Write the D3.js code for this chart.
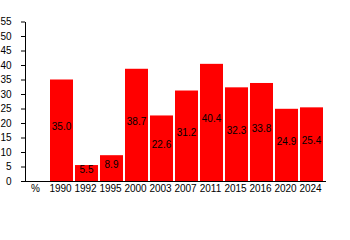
<!DOCTYPE html>
<html>
<head>
<meta charset="utf-8">
<script src="https://cdn.jsdelivr.net/npm/d3@7"></script>
<style>
  body { margin: 0; background: #fff; }
  svg { display: block; font-family: "Liberation Sans", Arial, sans-serif; }
  .axis text { font-size: 10px; fill: #000; font-family: "Liberation Sans", Arial, sans-serif; }
  .bar-label { font-size: 10px; fill: #000; }
</style>
</head>
<body>
<div id="viz"></div>
<script>
var categories = ["%", "1990", "1992", "1995", "2000", "2003", "2007", "2011", "2015", "2016", "2020", "2024"];
var years = ["1990", "1992", "1995", "2000", "2003", "2007", "2011", "2015", "2016", "2020", "2024"];
var values = [35.0, 5.5, 8.9, 38.7, 22.6, 31.2, 40.4, 32.3, 33.8, 24.9, 25.4];
var y_ticks = [0, 5, 10, 15, 20, 25, 30, 35, 40, 45, 50, 55];

var width = 350, height = 240;
var svg = d3.select("#viz").append("svg").attr("width", width).attr("height", height);

var x = d3.scaleBand()
    .domain(categories)
    .range([24, 324])
    .paddingInner(0.08)
    .paddingOuter(0.04);

var y = d3.scaleLinear()
    .domain([0, 55])
    .range([181, 21.5]);

// bars
var data = years.map(function(d, i){ return {year: d, value: values[i]}; });

svg.selectAll(".bar")
    .data(data)
  .enter().append("rect")
    .attr("class", "bar")
    .attr("x", function(d){ return x(d.year); })
    .attr("y", function(d){ return y(d.value); })
    .attr("width", x.bandwidth())
    .attr("height", function(d){ return y(0) - y(d.value); })
    .style("fill", "#ff0000");

svg.selectAll(".bar-label")
    .data(data)
  .enter().append("text")
    .attr("class", "bar-label")
    .attr("x", function(d){ return x(d.year) + x.bandwidth() / 2; })
    .attr("y", function(d){ return (y(0) + y(d.value)) / 2; })
    .style("text-anchor", "middle")
    .text(function(d){ return d.value.toFixed(1); });

// y axis
var y_axis = svg.append("g")
    .attr("class", "axis")
    .attr("transform", "translate(25,0)")
    .call(d3.axisLeft(y).tickValues(y_ticks).tickSize(4).tickSizeOuter(0).tickPadding(9.5));
y_axis.select(".domain").attr("stroke", "#000");

// x axis
var x_axis = svg.append("g")
    .attr("class", "axis")
    .attr("transform", "translate(-1," + y(0) + ")")
    .call(d3.axisBottom(x).tickSize(0).tickPadding(4));
x_axis.select(".domain").remove();

svg.append("line")
    .attr("x1", 25)
    .attr("x2", 326)
    .attr("y1", y(0) + 0.5)
    .attr("y2", y(0) + 0.5)
    .attr("stroke", "#000");
</script>
</body>
</html>
